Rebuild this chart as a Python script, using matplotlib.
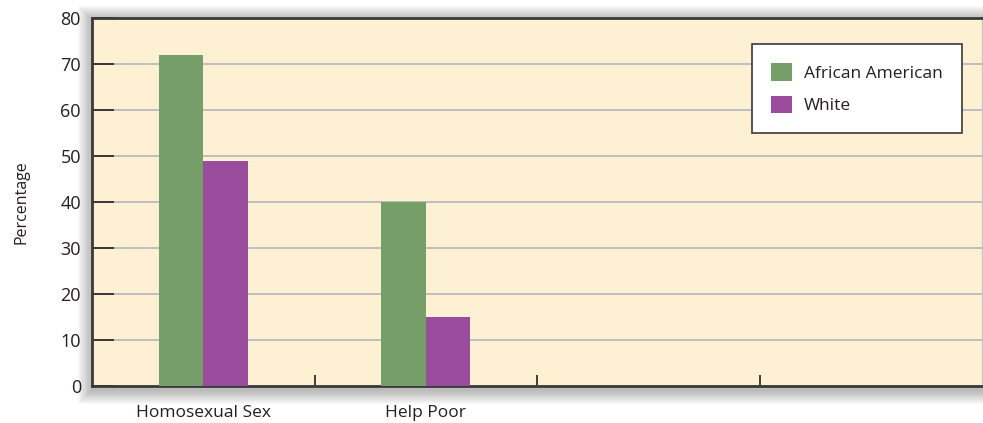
import matplotlib
matplotlib.use("Agg")
import matplotlib.pyplot as plt
from matplotlib.patches import Rectangle
import numpy as np

categories = ["Homosexual Sex", "Help Poor", "", ""]
african_american = [72, 40, np.nan, np.nan]
white = [49, 15, np.nan, np.nan]
series_names = ["African American", "White"]
y_ticks = [0, 10, 20, 30, 40, 50, 60, 70, 80]

plt.rcParams['font.family'] = ['Open Sans', 'DejaVu Sans']

fig = plt.figure(figsize=(9.83, 4.23), dpi=100)
L, B, R, T = 92/983, 37/423, 982/983, 405/423
ax = fig.add_axes([L, B, R - L, T - B])
ax.set_zorder(5)

# soft shadow behind the plot frame
for i in range(12):
    d = (i + 1) * 1.2
    fig.patches.append(Rectangle((L - d/983, B - (d + 4)/423), (R - L) + 2*d/983, (T - B) + (2*d + 2)/423,
                                 transform=fig.transFigure, facecolor='black', alpha=0.025,
                                 edgecolor='none', zorder=-1))

ax.set_facecolor('#fdf0d3')
x = np.arange(len(categories))
w = 0.2
ax.bar(x - w/2, african_american, w, color='#759e69', label=series_names[0], zorder=3)
ax.bar(x + w/2, white, w, color='#9a4d9c', label=series_names[1], zorder=3)

ax.set_xlim(-0.5, len(categories) - 0.5)
ax.set_ylim(0, 80)
ax.set_yticks(y_ticks)
ax.set_yticklabels([str(v) for v in y_ticks], fontsize=13, color='#231f20')
ax.tick_params(axis='y', direction='in', length=16, width=1.2, color='#231f20', pad=8)
ax.yaxis.grid(True, color='#b3b6bd', linewidth=1.2, zorder=1)
ax.set_axisbelow(True)

ax.set_xticks(x)
ax.set_xticklabels(categories, fontsize=12.5, color='#231f20')
ax.tick_params(axis='x', length=0, pad=14)
ax.set_xticks(np.arange(len(categories) - 1) + 0.5, minor=True)
ax.tick_params(axis='x', which='minor', direction='in', length=8, width=1.2, color='#231f20')

for s in ['left', 'bottom', 'top']:
    ax.spines[s].set_color('#3a3a3a')
    ax.spines[s].set_linewidth(2)
ax.spines['right'].set_color('#c8c8c8')
ax.spines['right'].set_linewidth(1)

ax.set_ylabel('Percentage', fontsize=11.5, color='#231f20', labelpad=22)

leg = ax.legend(loc='upper right', bbox_to_anchor=(0.977, 0.93), fontsize=12.5,
                frameon=True, fancybox=False, handlelength=1.2, handleheight=1.2,
                borderpad=1.1, labelspacing=0.8, handletextpad=0.7, borderaxespad=0)
leg.get_frame().set_edgecolor('#3a3a3a')
leg.get_frame().set_linewidth(1.2)
leg.get_frame().set_facecolor('white')
leg.get_frame().set_alpha(1)
for t in leg.get_texts():
    t.set_color('#231f20')

fig.savefig('out.png', dpi=100)
